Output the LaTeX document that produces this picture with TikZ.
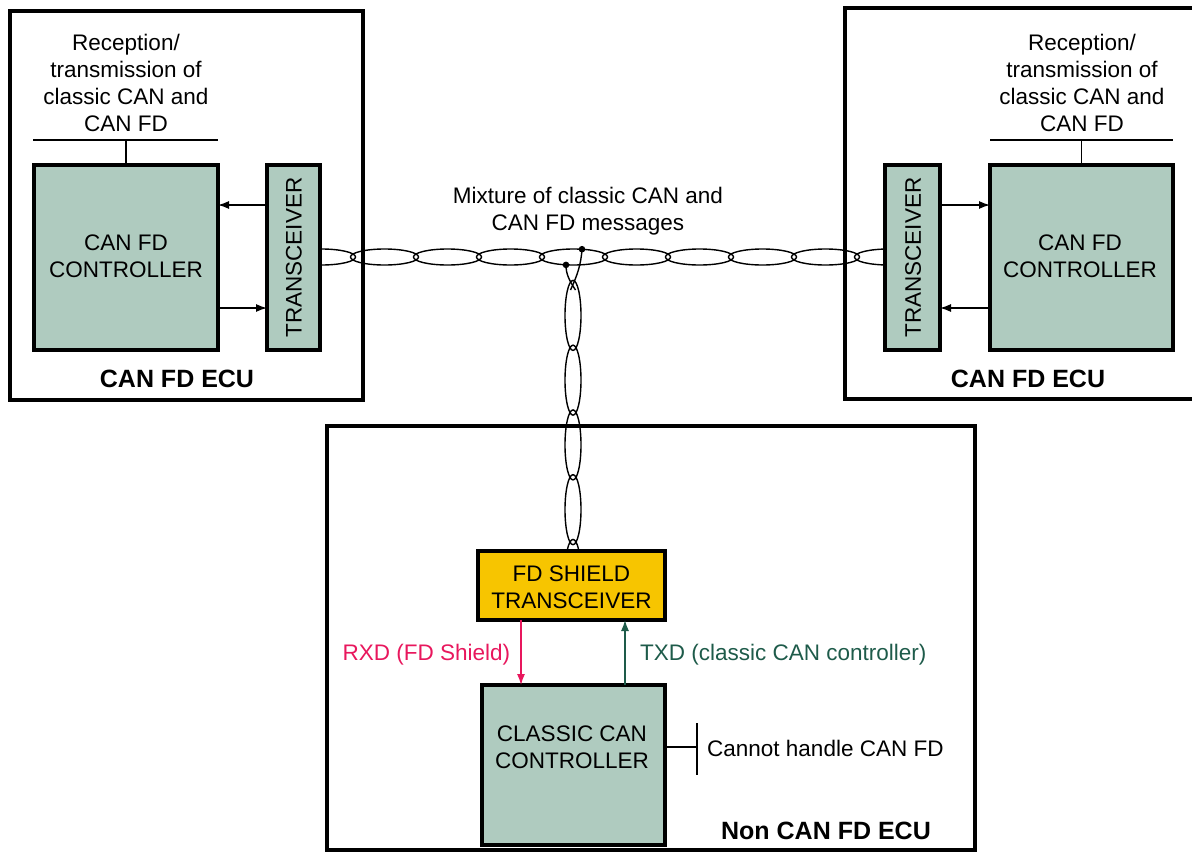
\documentclass[tikz,border=0pt]{standalone}
\usepackage{fontspec}
\setmainfont{Liberation Sans}
\usetikzlibrary{arrows.meta}
\definecolor{ctrl}{HTML}{AFCBBF}
\definecolor{gold}{HTML}{F7C500}
\definecolor{rxd}{HTML}{E8175D}
\definecolor{txd}{HTML}{1E5B4A}
\begin{document}
\begin{tikzpicture}[x=1pt,y=-1pt,
  ecu/.style={draw, line width=4pt},
  blk/.style={draw, line width=4pt, fill=ctrl, inner sep=0pt, outer sep=0pt},
  txt/.style={font=\fontsize{22.5}{27}\selectfont, inner sep=0pt, align=center},
  lbl/.style={font=\fontsize{25}{30}\selectfont\bfseries, inner sep=0pt},
  thinln/.style={line width=1.3pt},
  arr/.style={thinln, -{Latex[length=11pt,width=8pt]}},
  wire/.style={line width=1.4pt}]
\useasboundingbox (0,0) rectangle (1192,852);

% ECU frames
\draw[ecu] (10,11) rectangle (363,400);
\draw[ecu] (1194,8) -- (845,8) -- (845,399) -- (1194,399);
\draw[ecu] (327,426) rectangle (975,850);

% bus (drawn first, boxes cover the ends)
\foreach \k in {0,...,9} {
  \draw[wire] ({321.5+63*\k},257) ellipse (34pt and 8pt);
}
\foreach \k in {0,...,4} {
  \draw[wire] (573,{315.4+64.75*\k}) ellipse (8pt and 35pt);
}
\coordinate (DA) at (582,249.2);
\coordinate (DB) at (566,264.9);
\draw[wire] (DA) .. controls (581,265) and (577,276) .. (570.5,290);
\draw[wire] (DB) .. controls (566,274) and (569,280) .. (575.5,290);
\fill (DA) circle (3.3pt);
\fill (DB) circle (3.3pt);
\node[txt] (MX) at (588,211.5) {Mixture of classic CAN and\\CAN FD messages};

% left ECU
\node[blk, minimum width=184pt, minimum height=185pt] (LC) at (126,257.5) {};
\node[txt] (LCt) at (126,256.5) {CAN FD\\CONTROLLER};
\node[blk, minimum width=53pt, minimum height=185pt] (LT) at (293.5,257.5) {};
\node[txt, rotate=90] (LTt) at (294,257.5) {TRANSCEIVER};
\draw[arr] (LT.west |- 0,205) -- (LC.east |- 0,205);
\draw[arr] (LC.east |- 0,308) -- (LT.west |- 0,308);
\coordinate (La) at (33,140);
\coordinate (Lb) at (218,140);
\draw[thinln] (La) -- (Lb);
\draw[thinln] (LC.north) -- (LC.north |- La);
\node[txt] (LR) at (126,82.5) {Reception/\\transmission of\\classic CAN and\\CAN FD};
\node[lbl] (LE) at (177,379) {CAN FD ECU};

% right ECU
\node[blk, minimum width=183pt, minimum height=185pt] (RC) at (1081.5,257.5) {};
\node[txt] (RCt) at (1080,256.5) {CAN FD\\CONTROLLER};
\node[blk, minimum width=55pt, minimum height=185pt] (RT) at (912.5,257.5) {};
\node[txt, rotate=90] (RTt) at (913,257.5) {TRANSCEIVER};
\draw[arr] (RT.east |- 0,205) -- (RC.west |- 0,205);
\draw[arr] (RC.west |- 0,308) -- (RT.east |- 0,308);
\coordinate (Ra) at (990,140);
\coordinate (Rb) at (1173,140);
\draw[thinln] (Ra) -- (Rb);
\draw[thinln] (RC.north) -- (RC.north |- Ra);
\node[txt] (RR) at (1082,82.5) {Reception/\\transmission of\\classic CAN and\\CAN FD};
\node[lbl] (RE) at (1028,379) {CAN FD ECU};

% non CAN FD ECU
\node[blk, fill=gold, minimum width=187pt, minimum height=69pt] (FD) at (571.5,585.5) {};
\node[txt] (FDt) at (571.5,587.5) {FD SHIELD\\TRANSCEIVER};
\node[blk, minimum width=183pt, minimum height=160pt] (CL) at (573.5,765) {};
\node[txt] (CLt) at (572,747) {CLASSIC CAN\\CONTROLLER};
\draw[arr, draw=rxd, -{Latex[length=11pt,width=8pt,fill=rxd]}] (FD.south -| 521,0) -- (CL.north -| 521,0);
\draw[arr, draw=txd, -{Latex[length=11pt,width=8pt,fill=txd]}] (CL.north -| 625,0) -- (FD.south -| 625,0);
\node[txt, text=rxd] (RX) at (426.5,655) {RXD (FD Shield)};
\node[txt, text=txd, anchor=west] (TX) at (640,655) {TXD (classic CAN controller)};
\coordinate (Ct) at (697,723);
\coordinate (Cb) at (697,775);
\draw[thinln] (CL.east |- 0,747) -- (697,747);
\draw[thinln] (Ct) -- (Cb);
\node[txt, anchor=west] (CN) at (707,748) {Cannot handle CAN FD};
\node[lbl] (NE) at (826,831) {Non CAN FD ECU};
\end{tikzpicture}
\end{document}
